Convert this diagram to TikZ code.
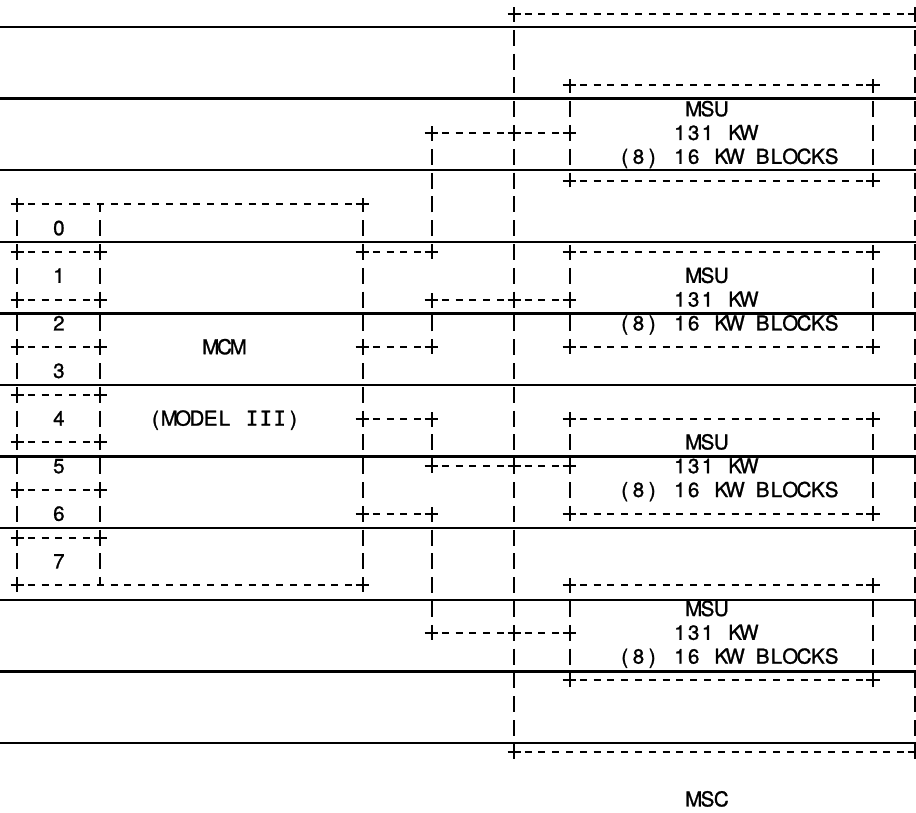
\documentclass[tikz,border=0pt]{standalone}
\usepackage{fontspec}
\setmainfont[FakeBold=1.2]{TeX Gyre Heros}
\newfontfamily\dvm[FakeBold=1.2]{DejaVu Sans Mono}
\usetikzlibrary{shapes.misc}
\makeatletter
\newcommand\gstr[1]{\@tfor\gs@c:=#1\do{\makebox[13.8pt][c]{\gs@c}}}
\makeatother
\begin{document}
\begin{tikzpicture}[x=13.8pt,y=-23.8pt,
  rule/.style={line width=2.4pt},
  hd/.style={line width=2pt,dash pattern=on 7pt off 6.8pt,dash phase=3.5pt},
  vd/.style={line width=2pt,dash pattern=on 16pt off 7.8pt,dash phase=8pt},
  pl/.style={cross out,draw,rotate=45,minimum size=7.6pt,inner sep=0pt,line width=2pt},
  lbl/.style={anchor=base,inner sep=0pt,yshift=-7pt,font=\fontsize{20.5}{21}\selectfont}]
\useasboundingbox (-1.2681,-0.5882) rectangle (65.1087,33.5714);
% ruled lines of the sheet
\foreach \k in {0,...,10} {
  \coordinate (sl\k a) at (-1.27,{0.546+3.008*\k});
  \coordinate (sl\k b) at (65.2,{0.546+3.008*\k});
  \draw[rule] (sl\k a) -- (sl\k b);
}
% MSC box
\node[pl] (mscTL) at (36,0) {};
\node[pl] (mscTR) at (65,0) {};
\node[pl] (mscBL) at (36,31) {};
\node[pl] (mscBR) at (65,31) {};
\draw[hd] (mscTL.center) -- (mscTR.center);
\draw[hd] (mscBL.center) -- (mscBR.center);
\draw[vd] (mscTL.center) -- (mscBL.center);
\draw[vd] (mscTR.center) -- (mscBR.center);
\node[lbl] (msc) at (50,33) {\gstr{MSC}};
% MSU boxes
\foreach \i/\t in {1/3,2/10,3/17,4/24} {
  \pgfmathtruncatemacro{\b}{\t+4}
  \pgfmathtruncatemacro{\m}{\t+2}
  \node[pl] (u\i tl) at (40,\t) {};
  \node[pl] (u\i tr) at (62,\t) {};
  \node[pl] (u\i bl) at (40,\b) {};
  \node[pl] (u\i br) at (62,\b) {};
  \node[pl] (u\i c) at (40,\m) {};
  \node[pl] (x\i) at (36,\m) {};
  \node[pl] (a\i) at (30,\m) {};
  \draw[hd] (u\i tl.center) -- (u\i tr.center);
  \draw[hd] (u\i bl.center) -- (u\i br.center);
  \draw[vd] (u\i tl.center) -- (u\i bl.center);
  \draw[vd] (u\i tr.center) -- (u\i br.center);
  \draw[hd] (a\i.center) -- (u\i c.center);
  \node[lbl] (msu\i) at (50,\t+1) {\gstr{MSU}};
  \node[lbl] (kw\i) at (50.5,\t+2) {\gstr{131~KW}};
  \node[lbl] (blk\i) at (51.5,\t+3) {\gstr{(8)~16~KW~BLOCKS}};
}
% MCM box
\node[pl] (mcmTL) at (0,8) {};
\node[pl] (mcmTR) at (25,8) {};
\node[pl] (mcmBL) at (0,24) {};
\node[pl] (mcmBR) at (25,24) {};
\draw[hd] (mcmTL.center) -- (mcmTR.center);
\draw[hd] (mcmBL.center) -- (mcmBR.center);
\draw[vd] (mcmTL.center) -- (mcmBL.center);
\draw[vd] (mcmTR.center) -- (mcmBR.center);
\coordinate (b6top) at (6,8);
\coordinate (b6bot) at (6,24);
\draw[vd] (b6top) -- (b6bot);
\foreach \r in {10,12,...,22} {
  \node[pl] (bl\r) at (0,\r) {};
  \node[pl] (br\r) at (6,\r) {};
  \draw[hd] (bl\r.center) -- (br\r.center);
}
\foreach \n in {0,...,7} {
  \node[lbl] (bank\n) at (3,{9+2*\n}) {\gstr{\n}};
}
\node[lbl] (mcm) at (15,14) {\gstr{MCM}};
\node[lbl] (model) at (15,17) {\gstr{(MODEL~{\dvm I}{\dvm I}{\dvm I})}};
% connectors MCM -> MSU
\foreach \i/\r in {1/10,2/14,3/17,4/21} {
  \node[pl] (m\i) at (25,\r) {};
  \node[pl] (j\i) at (30,\r) {};
  \draw[hd] (m\i.center) -- (j\i.center);
  \draw[vd] (j\i.center) -- (a\i.center);
}
\end{tikzpicture}
\end{document}
